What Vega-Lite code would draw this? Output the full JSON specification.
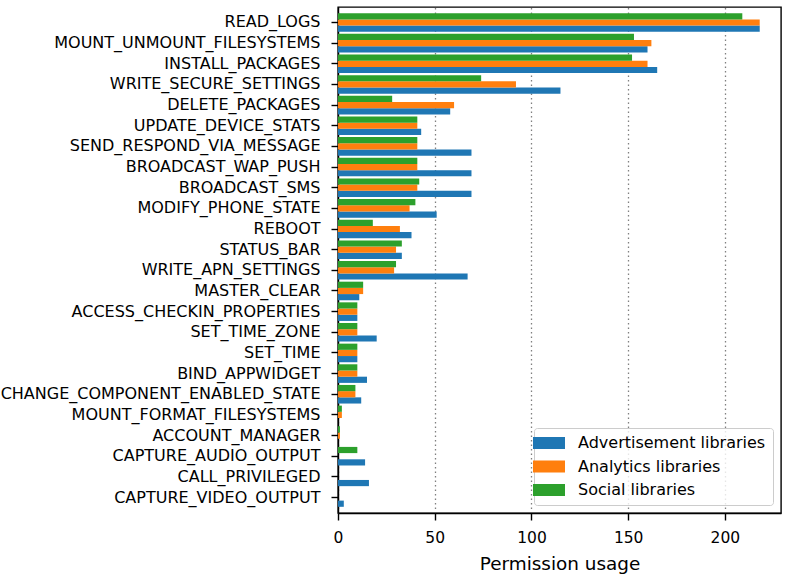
{
  "$schema": "https://vega.github.io/schema/vega-lite/v6.json",
  "width": 443,
  "height": 506,
  "autosize": "none",
  "padding": {"left": 338, "top": 7, "right": 8, "bottom": 61},
  "background": "white",
  "data": {
    "values": [
      {"permission": "READ_LOGS", "library": "Advertisement libraries", "count": 218},
      {"permission": "READ_LOGS", "library": "Analytics libraries", "count": 218},
      {"permission": "READ_LOGS", "library": "Social libraries", "count": 209},
      {"permission": "MOUNT_UNMOUNT_FILESYSTEMS", "library": "Advertisement libraries", "count": 160},
      {"permission": "MOUNT_UNMOUNT_FILESYSTEMS", "library": "Analytics libraries", "count": 162},
      {"permission": "MOUNT_UNMOUNT_FILESYSTEMS", "library": "Social libraries", "count": 153},
      {"permission": "INSTALL_PACKAGES", "library": "Advertisement libraries", "count": 165},
      {"permission": "INSTALL_PACKAGES", "library": "Analytics libraries", "count": 160},
      {"permission": "INSTALL_PACKAGES", "library": "Social libraries", "count": 152},
      {"permission": "WRITE_SECURE_SETTINGS", "library": "Advertisement libraries", "count": 115},
      {"permission": "WRITE_SECURE_SETTINGS", "library": "Analytics libraries", "count": 92},
      {"permission": "WRITE_SECURE_SETTINGS", "library": "Social libraries", "count": 74},
      {"permission": "DELETE_PACKAGES", "library": "Advertisement libraries", "count": 58},
      {"permission": "DELETE_PACKAGES", "library": "Analytics libraries", "count": 60},
      {"permission": "DELETE_PACKAGES", "library": "Social libraries", "count": 28},
      {"permission": "UPDATE_DEVICE_STATS", "library": "Advertisement libraries", "count": 43},
      {"permission": "UPDATE_DEVICE_STATS", "library": "Analytics libraries", "count": 41},
      {"permission": "UPDATE_DEVICE_STATS", "library": "Social libraries", "count": 41},
      {"permission": "SEND_RESPOND_VIA_MESSAGE", "library": "Advertisement libraries", "count": 69},
      {"permission": "SEND_RESPOND_VIA_MESSAGE", "library": "Analytics libraries", "count": 41},
      {"permission": "SEND_RESPOND_VIA_MESSAGE", "library": "Social libraries", "count": 41},
      {"permission": "BROADCAST_WAP_PUSH", "library": "Advertisement libraries", "count": 69},
      {"permission": "BROADCAST_WAP_PUSH", "library": "Analytics libraries", "count": 41},
      {"permission": "BROADCAST_WAP_PUSH", "library": "Social libraries", "count": 41},
      {"permission": "BROADCAST_SMS", "library": "Advertisement libraries", "count": 69},
      {"permission": "BROADCAST_SMS", "library": "Analytics libraries", "count": 41},
      {"permission": "BROADCAST_SMS", "library": "Social libraries", "count": 42},
      {"permission": "MODIFY_PHONE_STATE", "library": "Advertisement libraries", "count": 51},
      {"permission": "MODIFY_PHONE_STATE", "library": "Analytics libraries", "count": 37},
      {"permission": "MODIFY_PHONE_STATE", "library": "Social libraries", "count": 40},
      {"permission": "REBOOT", "library": "Advertisement libraries", "count": 38},
      {"permission": "REBOOT", "library": "Analytics libraries", "count": 32},
      {"permission": "REBOOT", "library": "Social libraries", "count": 18},
      {"permission": "STATUS_BAR", "library": "Advertisement libraries", "count": 33},
      {"permission": "STATUS_BAR", "library": "Analytics libraries", "count": 30},
      {"permission": "STATUS_BAR", "library": "Social libraries", "count": 33},
      {"permission": "WRITE_APN_SETTINGS", "library": "Advertisement libraries", "count": 67},
      {"permission": "WRITE_APN_SETTINGS", "library": "Analytics libraries", "count": 29},
      {"permission": "WRITE_APN_SETTINGS", "library": "Social libraries", "count": 30},
      {"permission": "MASTER_CLEAR", "library": "Advertisement libraries", "count": 11},
      {"permission": "MASTER_CLEAR", "library": "Analytics libraries", "count": 13},
      {"permission": "MASTER_CLEAR", "library": "Social libraries", "count": 13},
      {"permission": "ACCESS_CHECKIN_PROPERTIES", "library": "Advertisement libraries", "count": 10},
      {"permission": "ACCESS_CHECKIN_PROPERTIES", "library": "Analytics libraries", "count": 10},
      {"permission": "ACCESS_CHECKIN_PROPERTIES", "library": "Social libraries", "count": 10},
      {"permission": "SET_TIME_ZONE", "library": "Advertisement libraries", "count": 20},
      {"permission": "SET_TIME_ZONE", "library": "Analytics libraries", "count": 10},
      {"permission": "SET_TIME_ZONE", "library": "Social libraries", "count": 10},
      {"permission": "SET_TIME", "library": "Advertisement libraries", "count": 10},
      {"permission": "SET_TIME", "library": "Analytics libraries", "count": 10},
      {"permission": "SET_TIME", "library": "Social libraries", "count": 10},
      {"permission": "BIND_APPWIDGET", "library": "Advertisement libraries", "count": 15},
      {"permission": "BIND_APPWIDGET", "library": "Analytics libraries", "count": 10},
      {"permission": "BIND_APPWIDGET", "library": "Social libraries", "count": 10},
      {"permission": "CHANGE_COMPONENT_ENABLED_STATE", "library": "Advertisement libraries", "count": 12},
      {"permission": "CHANGE_COMPONENT_ENABLED_STATE", "library": "Analytics libraries", "count": 9},
      {"permission": "CHANGE_COMPONENT_ENABLED_STATE", "library": "Social libraries", "count": 9},
      {"permission": "MOUNT_FORMAT_FILESYSTEMS", "library": "Advertisement libraries", "count": 0},
      {"permission": "MOUNT_FORMAT_FILESYSTEMS", "library": "Analytics libraries", "count": 2},
      {"permission": "MOUNT_FORMAT_FILESYSTEMS", "library": "Social libraries", "count": 2},
      {"permission": "ACCOUNT_MANAGER", "library": "Advertisement libraries", "count": 0},
      {"permission": "ACCOUNT_MANAGER", "library": "Analytics libraries", "count": 1},
      {"permission": "ACCOUNT_MANAGER", "library": "Social libraries", "count": 1},
      {"permission": "CAPTURE_AUDIO_OUTPUT", "library": "Advertisement libraries", "count": 14},
      {"permission": "CAPTURE_AUDIO_OUTPUT", "library": "Analytics libraries", "count": 0},
      {"permission": "CAPTURE_AUDIO_OUTPUT", "library": "Social libraries", "count": 10},
      {"permission": "CALL_PRIVILEGED", "library": "Advertisement libraries", "count": 16},
      {"permission": "CALL_PRIVILEGED", "library": "Analytics libraries", "count": 0},
      {"permission": "CALL_PRIVILEGED", "library": "Social libraries", "count": 0},
      {"permission": "CAPTURE_VIDEO_OUTPUT", "library": "Advertisement libraries", "count": 3},
      {"permission": "CAPTURE_VIDEO_OUTPUT", "library": "Analytics libraries", "count": 0},
      {"permission": "CAPTURE_VIDEO_OUTPUT", "library": "Social libraries", "count": 0}
    ]
  },
  "mark": {"type": "bar", "cornerRadius": 0},
  "encoding": {
    "y": {
      "field": "permission",
      "type": "nominal",
      "sort": null,
      "title": null,
      "scale": {"paddingInner": 0.1, "paddingOuter": 0.3},
      "axis": {"labelFontSize": 16, "labelPadding": 11, "labelLimit": 0, "tickSize": 7, "grid": false}
    },
    "yOffset": {
      "field": "library",
      "type": "nominal",
      "sort": ["Social libraries", "Analytics libraries", "Advertisement libraries"]
    },
    "x": {
      "field": "count",
      "type": "quantitative",
      "title": "Permission usage",
      "scale": {"domain": [0, 229], "nice": false},
      "axis": {
        "values": [0, 50, 100, 150, 200],
        "labelFontSize": 15.5,
        "labelFlush": false,
        "titleFontSize": 18.4,
        "titleFontWeight": "normal",
        "labelPadding": 10,
        "titlePadding": 9,
        "tickSize": 7,
        "grid": true,
        "gridColor": "#808080",
        "gridDash": [1.5, 3],
        "gridWidth": 1.3
      }
    },
    "color": {
      "field": "library",
      "type": "nominal",
      "scale": {
        "domain": ["Advertisement libraries", "Analytics libraries", "Social libraries"],
        "range": ["#1f77b4", "#ff7f0e", "#2ca02c"]
      },
      "legend": {
        "title": null,
        "orient": "bottom-right",
        "offset": 8,
        "padding": 7,
        "symbolType": "M-2.286,-0.857H2.286V0.857H-2.286Z",
        "symbolSize": 196,
        "symbolStrokeWidth": 0,
        "labelFontSize": 16,
        "labelLimit": 0,
        "labelOffset": 21,
        "rowPadding": 7.5,
        "fillColor": "rgba(255,255,255,0.8)",
        "strokeColor": "#cccccc",
        "cornerRadius": 3
      }
    }
  },
  "config": {
    "font": "DejaVu Sans",
    "view": {"stroke": "black", "strokeWidth": 1.4},
    "axis": {
      "domainColor": "black",
      "domainWidth": 1.4,
      "tickColor": "black",
      "tickWidth": 1.4,
      "labelColor": "black",
      "titleColor": "black",
      "labelFont": "DejaVu Sans",
      "titleFont": "DejaVu Sans"
    },
    "legend": {"labelColor": "black", "labelFont": "DejaVu Sans"}
  }
}
